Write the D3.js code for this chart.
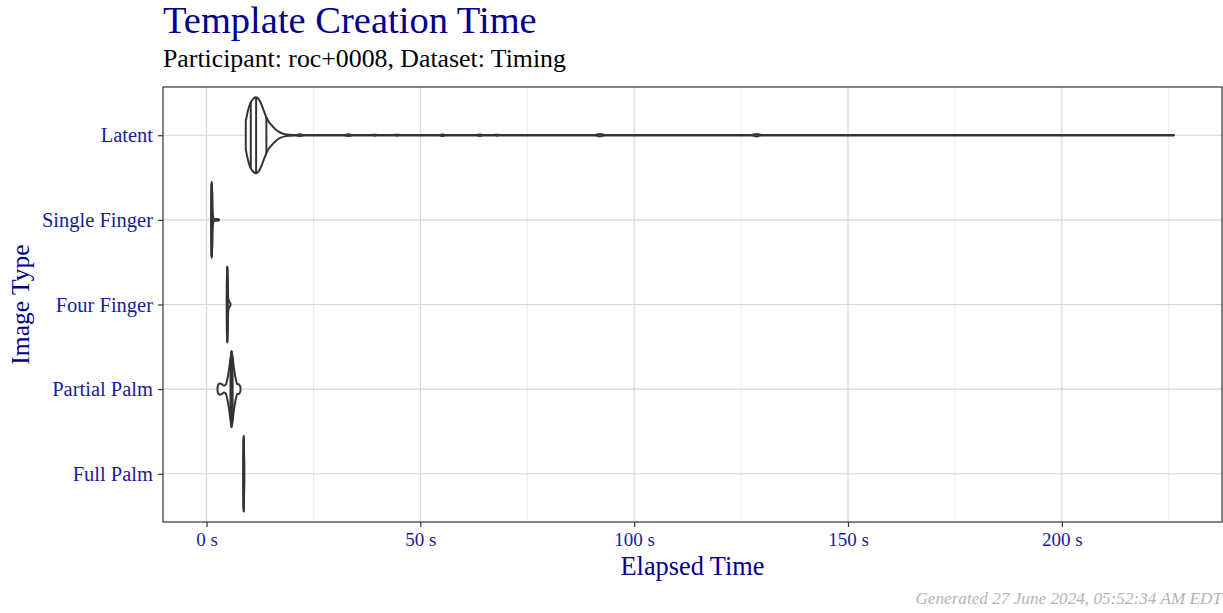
<!DOCTYPE html>
<meta charset="utf-8" />
<title>Template Creation Time</title>
<style>
  body { margin: 0; background: #fff; }
  text { font-family: "Liberation Serif", serif; }
  .grid-major { stroke: #d4d4d4; stroke-width: 1.1px; }
  .grid-minor { stroke: #ebebeb; stroke-width: 1px; }
  .violin { fill: #fff; stroke: #333; stroke-width: 2px; stroke-linejoin: round; }
  .quant { stroke: #333; stroke-width: 2px; }
  .tick line { stroke: #333; }
  .tick text { fill: #1a1a9c; }
</style>
<body>
<svg width="1223" height="613"></svg>
<script src="https://d3js.org/d3.v7.min.js"></script>
<script>
const width = 1223, height = 613;
const svg = d3.select("svg");

const categories = ["Latent", "Single Finger", "Four Finger", "Partial Palm", "Full Palm"];
const xTicks = [0, 50, 100, 150, 200];
const xMinorTicks = [25, 75, 125, 175, 225];

// density profiles: [seconds, relative density]
const latentDensity = [
  [9.18, 0.37], [9.65, 0.63], [10.35, 0.87], [11.05, 0.97], [11.5, 1.0], [12.2, 0.95],
  [12.9, 0.79], [13.6, 0.58], [14.3, 0.4], [15.25, 0.26], [16.4, 0.13], [17.35, 0.065],
  [18.3, 0.03], [19.5, 0.012], [20.8, 0.005], [21.8, 0.025], [22.8, 0.005],
  [32.2, 0.005], [33.2, 0.025], [34.2, 0.005], [38.5, 0.005], [39.3, 0.015], [40.1, 0.005],
  [43.7, 0.005], [44.5, 0.015], [45.3, 0.005], [54.4, 0.005], [55.2, 0.018], [56.0, 0.005],
  [63.1, 0.005], [63.9, 0.018], [64.7, 0.005], [67.1, 0.005], [67.9, 0.015], [68.7, 0.005],
  [90.8, 0.005], [92.0, 0.03], [93.2, 0.005], [127.4, 0.005], [128.6, 0.03], [129.8, 0.005],
  [226.2, 0.005]
];
const singleDensity = [
  [1.08, 0.3], [1.16, 0.9], [1.24, 1.0], [1.33, 0.7], [1.45, 0.2], [1.65, 0.03], [2.87, 0.015]
];
const fourDensity = [
  [4.72, 0.3], [4.8, 0.9], [4.88, 1.0], [4.97, 0.6], [5.08, 0.15], [5.3, 0.08], [5.6, 0.03]
];
const partialDensity = [
  [2.59, 0.065], [2.76, 0.12], [3.1, 0.145], [3.57, 0.13], [4.04, 0.09], [4.5, 0.12],
  [4.97, 0.32], [5.44, 0.66], [5.68, 0.87], [5.84, 1.0], [6.03, 0.9], [6.38, 0.58],
  [6.85, 0.26], [7.2, 0.13], [7.55, 0.13], [7.78, 0.1], [7.94, 0.05]
];
const fullDensity = [
  [8.6, 0.3], [8.66, 0.9], [8.71, 1.0], [8.77, 0.6], [8.85, 0.2]
];
const densities = [latentDensity, singleDensity, fourDensity, partialDensity, fullDensity];

// 25th, 50th and 75th percentiles
const quantiles = [
  [10.35, 11.6, 14.0],
  [1.2, 1.25, 1.32],
  [4.83, 4.88, 4.95],
  [5.6, 5.84, 6.1],
  [8.66, 8.71, 8.75]
];

const margin = { top: 87, right: 1, bottom: 91, left: 163 };
const pw = width - margin.left - margin.right;
const ph = height - margin.top - margin.bottom;

const allX = densities.flat().map(d => d[0]);
const [xmin, xmax] = d3.extent(allX);
const pad = (xmax - xmin) * 0.05;
const x = d3.scaleLinear().domain([xmin - pad, xmax + pad]).range([margin.left, margin.left + pw]);
const y = d3.scalePoint().domain(categories).range([margin.top, margin.top + ph]).padding(0.57);
const halfW = y.step() * 0.45;

// grid
const grid = svg.append("g");
grid.selectAll(".gm").data(xMinorTicks).join("line").attr("class", "grid-minor")
  .attr("x1", d => x(d)).attr("x2", d => x(d)).attr("y1", margin.top).attr("y2", margin.top + ph);
grid.selectAll(".gx").data(xTicks).join("line").attr("class", "grid-major")
  .attr("x1", d => x(d)).attr("x2", d => x(d)).attr("y1", margin.top).attr("y2", margin.top + ph);
grid.selectAll(".gy").data(categories).join("line").attr("class", "grid-major")
  .attr("x1", margin.left).attr("x2", margin.left + pw).attr("y1", d => y(d)).attr("y2", d => y(d));

// violins
const violins = svg.append("g");
categories.forEach((cat, i) => {
  const dens = densities[i];
  const cy = y(cat);
  const area = d3.area()
    .x(d => x(d[0]))
    .y0(d => cy - d[1] * halfW)
    .y1(d => cy + d[1] * halfW)
    .curve(d3.curveMonotoneX);
  violins.append("path").attr("class", "violin").attr("d", area(dens));

  const xs = dens.map(d => d[0]), ws = dens.map(d => d[1]);
  quantiles[i].forEach(q => {
    const j = d3.bisectLeft(xs, q);
    const t = (q - xs[j - 1]) / (xs[j] - xs[j - 1]);
    const w = ws[j - 1] + t * (ws[j] - ws[j - 1]);
    violins.append("line").attr("class", "quant")
      .attr("x1", x(q)).attr("x2", x(q))
      .attr("y1", cy - w * halfW).attr("y2", cy + w * halfW);
  });
});

// panel border
svg.append("rect")
  .attr("x", margin.left).attr("y", margin.top).attr("width", pw).attr("height", ph)
  .attr("fill", "none").attr("stroke", "#333").attr("stroke-width", 1.2);

// axes
const xAxis = svg.append("g").attr("transform", `translate(0,${margin.top + ph})`)
  .call(d3.axisBottom(x).tickValues(xTicks).tickFormat(d => d + " s").tickSize(5).tickPadding(6));
xAxis.select(".domain").remove();
xAxis.selectAll(".tick line").attr("stroke-width", 1.2);
xAxis.selectAll(".tick text").attr("font-size", 19);

const yAxis = svg.append("g").attr("transform", `translate(${margin.left},0)`)
  .call(d3.axisLeft(y).tickSize(5).tickPadding(5));
yAxis.select(".domain").remove();
yAxis.selectAll(".tick line").attr("stroke-width", 1.2);
yAxis.selectAll(".tick text").attr("font-size", 20.5);

// titles
svg.append("text").attr("x", 163).attr("y", 33)
  .attr("fill", "#00008b").attr("font-size", 38.5).text("Template Creation Time");
svg.append("text").attr("x", 163).attr("y", 67)
  .attr("fill", "#000").attr("font-size", 25.8).text("Participant: roc+0008, Dataset: Timing");
svg.append("text").attr("x", margin.left + pw / 2).attr("y", 575).attr("text-anchor", "middle")
  .attr("fill", "#00008b").attr("font-size", 26.3).text("Elapsed Time");
svg.append("text").attr("transform", `translate(29,${margin.top + ph / 2}) rotate(-90)`)
  .attr("text-anchor", "middle")
  .attr("fill", "#00008b").attr("font-size", 25.5).text("Image Type");
svg.append("text").attr("x", 1222).attr("y", 604).attr("text-anchor", "end")
  .attr("fill", "#b3b3b3").attr("font-size", 17.2).attr("font-style", "italic")
  .text("Generated 27 June 2024, 05:52:34 AM EDT");
</script>
</body>
